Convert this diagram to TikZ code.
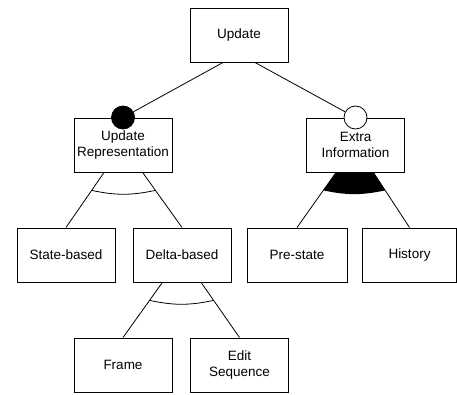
\documentclass[tikz,border=0pt]{standalone}
\usepackage{fontspec}
\setmainfont{Liberation Sans}
\usetikzlibrary{backgrounds}
\begin{document}
\begin{tikzpicture}[x=1pt,y=-1pt,
  feature/.style={draw,line width=1pt,fill=white,minimum width=98pt,minimum height=54pt,
    inner sep=0pt,align=center,font=\fontsize{13.5}{16.7}\selectfont},
  edge/.style={line width=.8pt},
  dot/.style={circle,draw,line width=.8pt,minimum size=23pt,inner sep=0pt}]
\useasboundingbox (0,0) rectangle (457,394);

\node[feature] (update) at (239,35) {Update};
\node[feature] (urep) at (123,145) {Update\\Representation};
\node[feature] (xinfo) at (355.5,145) {Extra\\Information};
\node[feature] (state) at (66,255) {State-based};
\node[feature] (delta) at (182,255) {Delta-based};
\node[feature,minimum width=100pt] (pre) at (297,255) {Pre-state};
\node[feature,minimum width=94pt] (history) at (409.5,255) {History};
\node[feature] (frame) at (123,365) {Frame};
\node[feature] (edit) at (239.5,365) {Edit\\Sequence};

\node[dot,fill=black] (urepdot) at (urep.north) {};
\node[dot,fill=white] (xinfodot) at (xinfo.north) {};
\draw[edge] ([xshift=-16pt]update.south) -- (urepdot);
\draw[edge] ([xshift=16pt]update.south) -- (xinfodot);

\path (urep.center) -- (state.north) coordinate[pos=.55] (urepA);
\path (urep.center) -- (delta.north) coordinate[pos=.55] (urepB);
\path (xinfo.center) -- (pre.north) coordinate[pos=.55] (xinfoA);
\path (xinfo.center) -- (history.north) coordinate[pos=.55] (xinfoB);
\path (delta.center) -- (frame.north) coordinate[pos=.55] (deltaA);
\path (delta.center) -- (edit.north) coordinate[pos=.55] (deltaB);

\begin{scope}[on background layer]
\foreach \p/\c in {urep/state,urep/delta,xinfo/pre,xinfo/history,delta/frame,delta/edit}
\draw[edge] (\p.center) -- (\c.north);
\fill (xinfo.center) -- (xinfoA) to[bend right=12] (xinfoB) -- cycle;
\end{scope}

\draw[edge] (urepA) to[bend right=12] (urepB);
\draw[edge] (deltaA) to[bend right=12] (deltaB);
\end{tikzpicture}
\end{document}
